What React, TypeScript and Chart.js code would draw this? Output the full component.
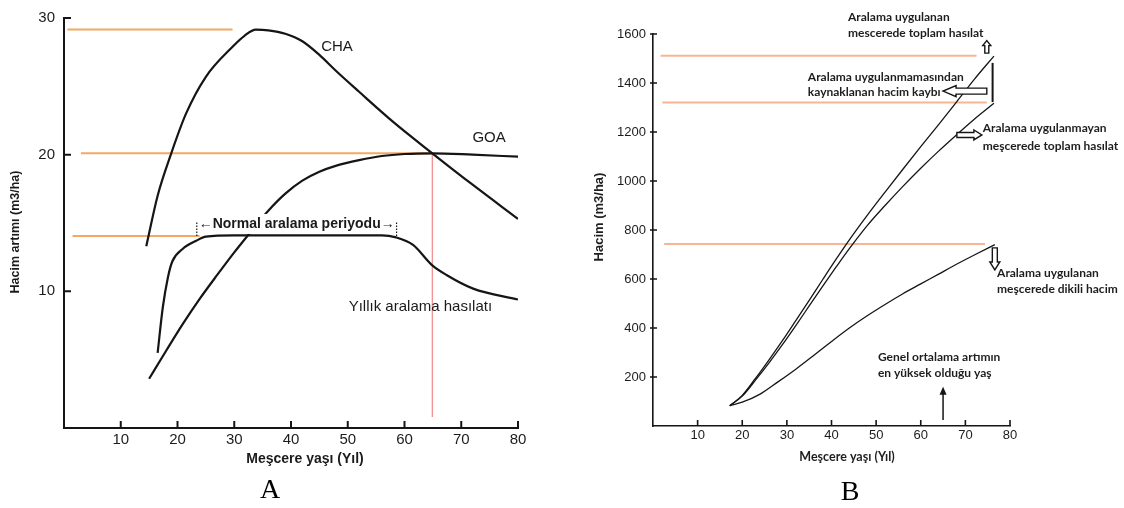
import { useEffect, useRef } from 'react';
import { Chart, registerables } from 'chart.js';

Chart.register(...registerables);

const SANS = '"Liberation Sans", Arial, sans-serif';
const CAL = 'Lato, "Open Sans", sans-serif';
const SERIF = '"Liberation Serif", "Times New Roman", serif';
const INK = '#151515';

// ---------- Panel A: annual volume increment (m3/ha) by stand age ----------
const xTicksA = [10, 20, 30, 40, 50, 60, 70, 80];
const yTicksA = [10, 20, 30];

// current annual increment (CHA)
const ageCHA = [14.5, 16.5, 18.9, 21.5, 25.0, 29.7, 31.8, 33.8, 36.0, 39.0, 42.0, 45.0, 48.0, 52.0, 58.0, 64.9, 72.0, 80.0];
const valCHA = [13.3, 17.0, 20.1, 23.0, 25.7, 27.9, 28.7, 29.15, 29.1, 28.85, 28.3, 27.3, 26.1, 24.6, 22.4, 20.1, 17.8, 15.3];

// mean annual increment (GOA)
const ageGOA = [15.0, 18.0, 21.0, 24.0, 27.0, 30.0, 33.0, 36.0, 39.0, 42.0, 45.0, 48.0, 52.0, 56.0, 60.0, 64.9, 72.0, 80.0];
const valGOA = [3.6, 5.65, 7.65, 9.5, 11.2, 12.85, 14.4, 15.9, 17.15, 18.1, 18.75, 19.2, 19.6, 19.9, 20.05, 20.1, 20.0, 19.85];

// yearly thinning yield
const ageThin = [16.5, 17.4, 18.3, 19.1, 20.9, 23.3, 25.0, 30.0, 40.0, 50.0, 56.0, 58.5, 61.5, 64.9, 67.4, 72.1, 80.0];
const valThin = [5.5, 8.8, 11.0, 12.2, 13.1, 13.7, 14.0, 14.1, 14.1, 14.1, 14.1, 13.95, 13.4, 11.9, 11.2, 10.2, 9.4];

// horizontal guides: level, start age, end age
const guideLevelA = [29.15, 20.1, 14.05];
const guideFromA = [0.6, 3.0, 1.5];
const guideToA = [29.7, 64.9, 23.9];
// rotation age where CHA meets GOA
const rotationAge = 64.9;
const rotationSpan = [0.8, 20.1];
// normal thinning period
const thinPeriod = [23.4, 58.6];

// ---------- Panel B: volume (m3/ha) by stand age ----------
const xTicksB = [10, 20, 30, 40, 50, 60, 70, 80];
const yTicksB = [200, 400, 600, 800, 1000, 1200, 1400, 1600];

const ageTotal = [17.2, 20, 23, 26, 29, 32, 35, 38, 41, 44, 48, 52, 56, 60, 64, 68, 72, 76.4];
const totalThinned = [83, 125, 195, 270, 348, 430, 513, 597, 680, 760, 860, 955, 1048, 1140, 1230, 1322, 1415, 1510];
const totalUnthinned = [83, 122, 188, 258, 332, 410, 490, 570, 648, 724, 818, 900, 978, 1052, 1122, 1188, 1252, 1317];

const ageStand = [17.2, 20, 24, 28, 32, 36, 40, 44, 48, 52, 56, 60, 64, 68, 72, 76.6];
const standing = [83, 97, 130, 180, 232, 288, 345, 400, 450, 496, 540, 580, 620, 660, 698, 740];

const guideLevelB = [1511, 1320, 743];
const guideFromB = [1.7, 2.1, 2.5];
const guideToB = [72.5, 74.8, 74.4];
const peakMeanAge = 65;

type Pt = { x: number; y: number };
const pts = (xs: number[], ys: number[]): Pt[] => xs.map((x, i) => ({ x, y: ys[i] }));

const curve = (data: Pt[], width: number) => ({
  data,
  borderColor: INK,
  borderWidth: width,
  pointRadius: 0,
  cubicInterpolationMode: 'monotone' as const,
  fill: false,
  order: 0,
});

const guide = (data: Pt[], color: string, width: number) => ({
  data,
  borderColor: color,
  borderWidth: width,
  pointRadius: 0,
  tension: 0,
  fill: false,
  order: 1,
});

function axisScale(min: number, max: number, ticks: number[], size: number, padding: number, fit: (s: any) => void, borderWidth: number) {
  return {
    type: 'linear' as const,
    min,
    max,
    afterBuildTicks: (s: any) => {
      s.ticks = ticks.map((value) => ({ value }));
    },
    afterFit: fit,
    ticks: {
      font: { family: SANS, size },
      color: '#1c1c1c',
      padding,
      maxRotation: 0,
      autoSkip: false,
      callback: (v: number | string) => String(v),
    },
    grid: { display: false, drawTicks: false },
    border: { display: true, color: INK, width: borderWidth },
  };
}

function blockArrow(ctx: CanvasRenderingContext2D, x1: number, y1: number, x2: number, y2: number, half: number, headHalf: number, headLen: number) {
  const len = Math.hypot(x2 - x1, y2 - y1);
  const ux = (x2 - x1) / len;
  const uy = (y2 - y1) / len;
  const nx = -uy;
  const ny = ux;
  const bx = x2 - ux * headLen;
  const by = y2 - uy * headLen;
  ctx.beginPath();
  ctx.moveTo(x1 + nx * half, y1 + ny * half);
  ctx.lineTo(bx + nx * half, by + ny * half);
  ctx.lineTo(bx + nx * headHalf, by + ny * headHalf);
  ctx.lineTo(x2, y2);
  ctx.lineTo(bx - nx * headHalf, by - ny * headHalf);
  ctx.lineTo(bx - nx * half, by - ny * half);
  ctx.lineTo(x1 - nx * half, y1 - ny * half);
  ctx.closePath();
  ctx.fillStyle = '#fff';
  ctx.fill();
  ctx.stroke();
}

const decorA = {
  id: 'decorA',
  afterDraw(chart: any) {
    const { ctx, chartArea: ca } = chart;
    const X = (v: number) => chart.scales.x.getPixelForValue(v);
    const Y = (v: number) => chart.scales.y.getPixelForValue(v);
    ctx.save();
    ctx.strokeStyle = INK;
    ctx.lineWidth = 2;
    ctx.beginPath();
    for (const v of xTicksA) {
      ctx.moveTo(X(v), ca.bottom);
      ctx.lineTo(X(v), ca.bottom - 7);
    }
    for (const v of yTicksA) {
      ctx.moveTo(ca.left, Y(v));
      ctx.lineTo(ca.left + 7, Y(v));
    }
    ctx.stroke();

    // thinning period label with its dotted end marks
    const label = '\u2190Normal aralama periyodu\u2192';
    ctx.font = `bold 14px ${SANS}`;
    const cx = (X(thinPeriod[0]) + X(thinPeriod[1])) / 2;
    const cy = Y(14.93);
    const w = ctx.measureText(label).width;
    ctx.fillStyle = '#fff';
    ctx.fillRect(cx - w / 2 - 1, cy - 10, w + 2, 20);
    ctx.fillStyle = '#1a1a1a';
    ctx.textAlign = 'center';
    ctx.textBaseline = 'middle';
    ctx.fillText(label, cx, cy);
    ctx.setLineDash([1.5, 1.5]);
    ctx.lineWidth = 1.2;
    ctx.beginPath();
    for (const a of thinPeriod) {
      ctx.moveTo(X(a), Y(14.05));
      ctx.lineTo(X(a), Y(15.05));
    }
    ctx.stroke();
    ctx.setLineDash([]);

    // curve names
    ctx.font = `15px ${SANS}`;
    ctx.fillText('CHA', X(48.1), Y(27.9));
    ctx.fillText('GOA', X(74.9), Y(21.2));
    ctx.fillText('Y\u0131ll\u0131k aralama has\u0131lat\u0131', X(62.8), Y(8.9));

    // axis titles
    ctx.font = `bold 14px ${SANS}`;
    ctx.fillText('Me\u015fcere ya\u015f\u0131 (Y\u0131l)', 305, 459);
    ctx.save();
    ctx.translate(16, 232);
    ctx.rotate(-Math.PI / 2);
    ctx.font = `bold 12.5px ${SANS}`;
    ctx.fillText('Hacim art\u0131m\u0131 (m3/ha)', 0, 0);
    ctx.restore();

    ctx.font = `28px ${SERIF}`;
    ctx.fillStyle = '#000';
    ctx.fillText('A', 270, 491);
    ctx.restore();
  },
};

// text notes and arrows of panel B, positioned in data units
const notesB = [
  { lines: ['Aralama uygulanan', 'mescerede toplam has\u0131lat'], x: 43.7, y: 1669, gap: 16 },
  { lines: ['Aralama uygulanmamas\u0131ndan', 'kaynaklanan hacim kayb\u0131'], x: 34.7, y: 1424, gap: 15 },
  { lines: ['Aralama uygulanmayan', 'me\u015fcerede toplam has\u0131lat'], x: 73.9, y: 1216, gap: 18 },
  { lines: ['Aralama uygulanan', 'me\u015fcerede dikili hacim'], x: 77.1, y: 624, gap: 16 },
  { lines: ['Genel ortalama art\u0131m\u0131n', 'en y\u00fcksek oldu\u011fu ya\u015f'], x: 50.4, y: 282, gap: 16 },
];

const arrowsB = [
  { from: [74.8, 1522], to: [74.8, 1573], half: 2, headHalf: 4, headLen: 5 },
  { from: [74.8, 1367], to: [65.0, 1367], half: 3, headHalf: 5.5, headLen: 13 },
  { from: [68.1, 1188], to: [73.7, 1188], half: 2.5, headHalf: 5, headLen: 8 },
  { from: [76.6, 727], to: [76.6, 637], half: 2.5, headHalf: 5, headLen: 8 },
];

const decorB = {
  id: 'decorB',
  afterDraw(chart: any) {
    const { ctx, chartArea: ca } = chart;
    const X = (v: number) => chart.scales.x.getPixelForValue(v);
    const Y = (v: number) => chart.scales.y.getPixelForValue(v);
    ctx.save();
    ctx.strokeStyle = INK;
    ctx.lineWidth = 1.6;
    ctx.beginPath();
    for (const v of xTicksB) {
      ctx.moveTo(X(v), ca.bottom);
      ctx.lineTo(X(v), ca.bottom - 6);
    }
    for (const v of yTicksB) {
      ctx.moveTo(ca.left - 3, Y(v));
      ctx.lineTo(ca.left + 4, Y(v));
    }
    ctx.stroke();

    // gap between thinned and unthinned totals
    ctx.lineWidth = 2;
    ctx.beginPath();
    ctx.moveTo(X(76.1), Y(1482));
    ctx.lineTo(X(76.1), Y(1322));
    ctx.stroke();

    ctx.lineWidth = 1.4;
    for (const a of arrowsB) {
      blockArrow(ctx, X(a.from[0]), Y(a.from[1]), X(a.to[0]), Y(a.to[1]), a.half, a.headHalf, a.headLen);
    }

    // age of highest mean increment
    const ax = X(peakMeanAge);
    const tipY = Y(160);
    ctx.lineWidth = 1.5;
    ctx.beginPath();
    ctx.moveTo(ax, Y(24));
    ctx.lineTo(ax, tipY + 6);
    ctx.stroke();
    ctx.fillStyle = INK;
    ctx.beginPath();
    ctx.moveTo(ax, tipY);
    ctx.lineTo(ax - 3.5, tipY + 8);
    ctx.lineTo(ax + 3.5, tipY + 8);
    ctx.closePath();
    ctx.fill();

    ctx.font = `bold 12px ${CAL}`;
    ctx.fillStyle = '#1e1e1e';
    ctx.textAlign = 'left';
    ctx.textBaseline = 'middle';
    for (const n of notesB) {
      n.lines.forEach((t, i) => ctx.fillText(t, X(n.x), Y(n.y) + i * n.gap));
    }

    ctx.textAlign = 'center';
    ctx.font = `bold 12.5px ${CAL}`;
    ctx.fillText('Me\u015fcere ya\u015f\u0131 (Y\u0131l)', 285, 457);
    ctx.save();
    ctx.translate(37, 217);
    ctx.rotate(-Math.PI / 2);
    ctx.font = `bold 13px ${SANS}`;
    ctx.fillText('Hacim (m3/ha)', 0, 0);
    ctx.restore();

    ctx.font = `28px ${SERIF}`;
    ctx.fillStyle = '#000';
    ctx.fillText('B', 288, 493);
    ctx.restore();
  },
};

function buildA() {
  const guides = guideLevelA.map((lv, i) =>
    guide([{ x: guideFromA[i], y: lv }, { x: guideToA[i], y: lv }], '#f4a863', 2)
  );
  return {
    type: 'line' as const,
    data: {
      datasets: [
        curve(pts(ageCHA, valCHA), 2.2),
        curve(pts(ageGOA, valGOA), 2.2),
        curve(pts(ageThin, valThin), 2.2),
        ...guides,
        guide([{ x: rotationAge, y: rotationSpan[0] }, { x: rotationAge, y: rotationSpan[1] }], '#ef8a86', 1.2),
      ],
    },
    options: {
      responsive: false,
      animation: false as const,
      devicePixelRatio: 1,
      layout: { padding: { left: 0, top: 14, right: 44, bottom: 0 } },
      plugins: { legend: { display: false }, tooltip: { enabled: false } },
      scales: {
        x: axisScale(0, 80, xTicksA, 15, 3, (s: any) => { s.height = 80; }, 2),
        y: axisScale(0, 30, yTicksA, 15, 9, (s: any) => { s.width = 64; }, 2),
      },
    },
    plugins: [decorA],
  };
}

function buildB() {
  const guides = guideLevelB.map((lv, i) =>
    guide([{ x: guideFromB[i], y: lv }, { x: guideToB[i], y: lv }], '#f8b594', 2)
  );
  return {
    type: 'line' as const,
    data: {
      datasets: [
        curve(pts(ageTotal, totalThinned), 1.3),
        curve(pts(ageTotal, totalUnthinned), 1.3),
        curve(pts(ageStand, standing), 1.3),
        ...guides,
      ],
    },
    options: {
      responsive: false,
      animation: false as const,
      devicePixelRatio: 1,
      layout: { padding: { left: 0, top: 34, right: 114, bottom: 0 } },
      plugins: { legend: { display: false }, tooltip: { enabled: false } },
      scales: {
        x: axisScale(0, 80, xTicksB, 13, 2, (s: any) => { s.height = 82; }, 1.6),
        y: axisScale(0, 1600, yTicksB, 13, 7, (s: any) => { s.width = 91; }, 1.6),
      },
    },
    plugins: [decorB],
  };
}

function Panel({ build, left }: { build: () => any; left: number }) {
  const ref = useRef<HTMLCanvasElement>(null);
  useEffect(() => {
    const chart = new Chart(ref.current as HTMLCanvasElement, build());
    return () => chart.destroy();
  }, [build]);
  return (
    <canvas
      ref={ref}
      width={562}
      height={508}
      style={{ position: 'absolute', left, top: 0, width: 562, height: 508, display: 'block' }}
    />
  );
}

export default function App() {
  return (
    <div style={{ position: 'fixed', left: 0, top: 0, width: 1124, height: 508, background: '#fff', overflow: 'hidden' }}>
      <Panel build={buildA} left={0} />
      <Panel build={buildB} left={562} />
    </div>
  );
}
